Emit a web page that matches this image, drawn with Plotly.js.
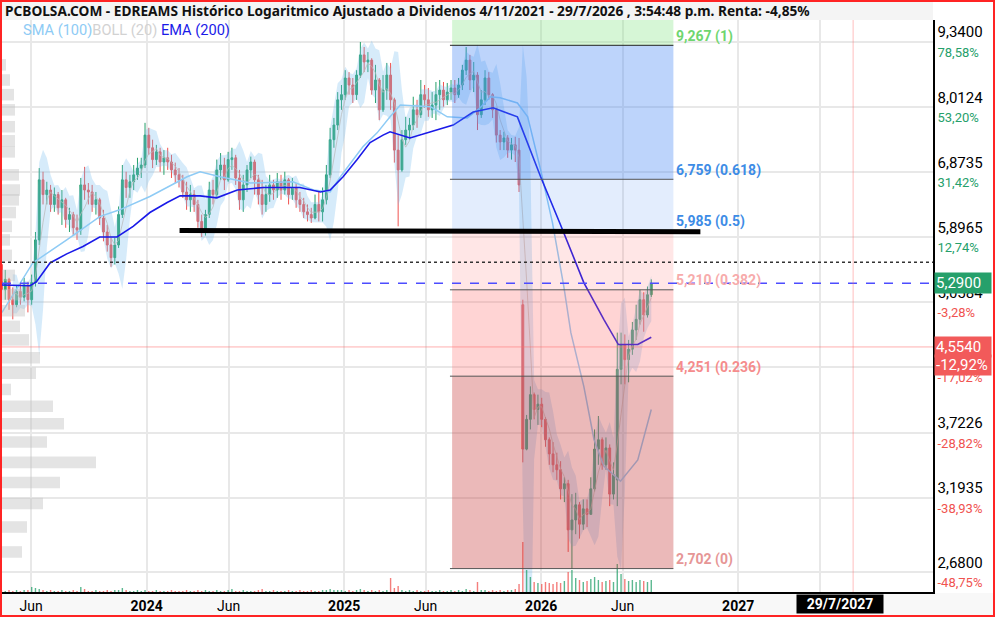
<!DOCTYPE html>
<html><head><meta charset="utf-8">
<script src="https://cdn.plot.ly/plotly-3.0.1.min.js"></script>
<style>
html,body{margin:0;padding:0;background:#fff}
#wrap{position:relative;width:995px;height:617px;overflow:hidden}
#chart{position:absolute;left:0;top:0;width:995px;height:617px}
.band{position:absolute}
#frame{position:absolute;left:0;top:0;width:995px;height:617px;box-sizing:border-box;border:2px solid #ff2424;pointer-events:none}
</style>
</head><body>
<div id="wrap">
<div class="band" style="left:0;top:0;width:933px;height:20px;background:#f4f4f4"></div>
<div class="band" style="left:0;top:593px;width:995px;height:24px;background:#f8f8f8"></div>
<div id="chart"></div>
<div id="frame"></div>
</div>
<script>
// ---------- weekly OHLC (EDREAMS), first week 2023-04-07 ----------
const O = [5.53,5.21,5.34,5.09,5.03,5.19,5.12,5.27,5.09,5.30,
5.86,6.75,6.52,6.59,6.37,6.52,6.32,6.44,6.15,6.22,
6.03,6.00,6.67,6.59,6.56,6.37,6.44,6.17,5.97,5.79,
5.62,5.79,6.22,6.75,6.63,6.72,6.83,6.94,6.99,7.50,
7.28,7.08,7.21,7.04,7.11,7.04,6.91,6.83,6.75,6.56,
6.44,6.52,6.37,6.12,6.00,6.22,6.59,6.52,6.91,6.99,
6.75,7.08,7.11,6.78,6.44,6.67,6.91,7.04,6.75,6.52,
6.37,6.52,6.67,6.59,6.72,6.59,6.75,6.52,6.63,6.44,
6.37,6.26,6.22,6.17,6.37,6.26,6.44,6.83,7.42,7.68,
8.15,8.25,8.58,8.44,8.25,8.64,9.06,8.91,8.95,8.34,
8.54,7.96,8.34,8.64,8.15,7.24,6.91,7.42,7.59,7.68,
7.96,7.87,8.25,8.15,7.96,8.05,8.25,8.34,8.15,8.30,
8.38,8.25,8.44,8.74,8.95,8.54,8.64,7.87,8.15,8.58,
8.25,7.96,7.50,7.38,7.45,7.24,7.33,7.24,5.03,3.58,
3.84,4.07,3.93,3.98,3.84,3.66,3.54,3.45,3.41,3.26,
3.30,2.96,3.03,3.14,3.00,3.11,3.07,3.26,3.58,3.66,
3.45,3.59,3.22,3.33,4.32,4.58,4.42,4.53,4.74,4.86,
5.09,4.91,5.15];
const H = [5.62,5.46,5.36,5.24,5.27,5.30,5.36,5.31,5.40,5.97,
6.94,6.88,6.72,6.67,6.63,6.56,6.59,6.47,6.32,6.26,
6.22,6.78,6.96,6.70,6.67,6.56,6.47,6.29,6.07,5.89,
5.89,6.34,6.99,6.88,6.83,6.99,7.11,7.11,7.72,7.63,
7.42,7.33,7.28,7.24,7.28,7.16,7.03,6.94,6.83,6.72,
6.67,6.59,6.44,6.22,6.29,6.72,6.75,7.08,7.19,7.11,
7.21,7.28,7.16,6.91,6.83,6.99,7.13,7.08,6.83,6.75,
6.67,6.83,6.75,6.86,6.83,6.88,6.78,6.78,6.70,6.56,
6.47,6.37,6.32,6.52,6.56,6.63,6.99,7.63,7.81,8.30,
8.44,8.74,8.70,8.58,8.74,9.34,9.23,9.12,8.99,8.85,
8.58,8.64,8.89,8.89,8.19,7.50,7.59,7.83,7.81,8.21,
8.15,8.54,8.44,8.38,8.30,8.50,8.54,8.50,8.48,8.54,
8.54,8.58,8.85,9.23,9.06,8.91,8.70,8.34,8.74,8.70,
8.28,8.00,7.59,7.56,7.50,7.45,7.47,7.45,5.09,3.88,
4.15,4.09,4.07,4.04,3.86,3.68,3.64,3.55,3.48,3.35,
3.33,3.22,3.23,3.16,3.18,3.18,3.35,3.75,3.87,3.68,
3.68,3.62,3.47,4.71,4.71,4.69,4.63,4.83,5.03,5.21,
5.18,5.25,5.34];
const L = [5.09,5.09,4.97,4.86,5.00,5.03,5.07,4.94,5.03,5.25,
5.79,6.37,6.37,6.26,6.26,6.22,6.07,6.03,5.97,5.93,
5.86,5.93,6.44,6.37,6.26,6.22,6.07,5.84,5.70,5.50,
5.53,5.75,6.17,6.47,6.47,6.59,6.75,6.78,6.94,7.16,
6.94,6.99,6.88,6.83,6.91,6.78,6.70,6.63,6.47,6.29,
6.26,6.26,6.03,5.90,5.92,6.17,6.37,6.47,6.75,6.59,
6.72,6.91,6.67,6.29,6.26,6.56,6.78,6.52,6.37,6.22,
6.26,6.41,6.44,6.47,6.44,6.52,6.37,6.44,6.32,6.26,
6.17,6.12,6.10,6.15,6.12,6.12,6.37,6.78,7.28,7.59,
7.96,8.15,8.25,8.09,8.15,8.58,8.70,8.70,8.25,8.09,
7.77,7.92,8.15,7.96,7.03,6.05,6.88,7.33,7.42,7.59,
7.63,7.81,8.00,7.83,7.81,7.77,7.96,8.02,8.05,8.15,
8.09,8.19,8.34,8.64,8.34,8.30,7.59,7.81,8.05,8.15,
7.81,7.37,7.24,7.24,7.11,7.08,7.04,6.56,3.47,3.57,
3.75,3.84,3.79,3.77,3.60,3.45,3.39,3.33,3.18,3.16,
2.81,2.70,2.93,2.90,2.96,2.98,3.07,3.24,3.45,3.41,
3.41,3.13,3.18,3.13,4.17,4.17,4.19,4.47,4.63,4.80,
4.72,4.88,5.12];
const C = [5.21,5.34,5.09,5.03,5.19,5.12,5.27,5.09,5.30,5.86,
6.75,6.52,6.59,6.37,6.52,6.32,6.44,6.15,6.22,6.03,
6.00,6.67,6.59,6.56,6.37,6.44,6.17,5.97,5.79,5.62,
5.79,6.22,6.75,6.63,6.72,6.83,6.94,6.99,7.50,7.28,
7.08,7.21,7.04,7.11,7.04,6.91,6.83,6.75,6.56,6.44,
6.52,6.37,6.12,6.00,6.22,6.59,6.52,6.91,6.99,6.75,
7.08,7.11,6.78,6.44,6.67,6.91,7.04,6.75,6.52,6.37,
6.52,6.67,6.59,6.72,6.59,6.75,6.52,6.63,6.44,6.37,
6.26,6.22,6.17,6.37,6.26,6.44,6.83,7.42,7.68,8.15,
8.25,8.58,8.44,8.25,8.64,9.06,8.91,8.95,8.34,8.54,
7.96,8.34,8.64,8.15,7.24,6.91,7.42,7.59,7.68,7.96,
7.87,8.25,8.15,7.96,8.05,8.25,8.34,8.15,8.30,8.38,
8.25,8.44,8.74,8.95,8.54,8.64,7.87,8.15,8.58,8.25,
7.96,7.50,7.38,7.45,7.24,7.33,7.24,6.67,3.58,3.84,
4.07,3.93,3.98,3.84,3.66,3.54,3.45,3.41,3.26,3.30,
2.96,3.03,3.14,3.00,3.11,3.07,3.26,3.58,3.66,3.45,
3.59,3.22,3.37,4.32,4.58,4.42,4.53,4.74,4.86,5.09,
4.91,5.15,5.29];
const VOL = [2,1,2,1,2,1,2,2,5,4, 3,2,1,2,1,1,2,1,1,2, 1,5,3,1,1,2,1,1,2,1,
2,2,4,2,1,1,2,1,2,1, 1,2,1,1,1,2,1,1,1,2, 1,1,2,1,2,1,1,2,1,1,
2,3,1,1,2,1,1,1,2,3, 1,1,2,1,1,1,2,1,1,2, 1,1,2,1,1,2,2,3,2,2,
2,1,2,1,2,3,2,1,2,1, 2,1,2,14,4,6,2,1,2,1, 2,1,1,2,1,1,2,1,1,2,
1,2,1,3,2,1,10,2,2,1, 2,1,2,1,2,2,3,8,50,22, 15,10,9,8,10,9,8,10,9,11,
20,22,14,12,10,11,13,15,12,10, 11,12,10,28,18,13,11,12,10,12, 11,10,12];

// ---------- moving averages ----------
const smaDates = ['2023-04-08','2023-06-04','2023-08-06','2023-10-06','2023-11-12','2024-01-07','2024-03-16','2024-04-09','2024-05-16','2024-07-11','2024-09-28','2024-11-05','2024-12-06','2024-12-25','2025-02-05','2025-03-03','2025-03-27','2025-04-15','2025-06-10','2025-07-11','2025-08-17','2025-09-10','2025-09-29','2025-10-17','2025-11-18','2025-12-07','2025-12-31','2026-01-22','2026-02-12','2026-02-25','2026-03-21','2026-04-09','2026-04-27','2026-05-28','2026-06-29','2026-07-24'];
const smaVals = [4.94,5.55,5.86,6.19,6.29,6.49,6.80,6.88,6.80,6.70,6.72,6.59,6.56,6.80,7.30,7.54,7.83,8.05,8.02,7.83,7.81,8.00,8.21,8.19,8.09,7.83,6.91,6.10,5.25,4.71,4.15,3.66,3.44,3.32,3.49,3.93];
const emaDates = ['2023-04-07','2023-05-30','2023-06-11','2023-07-06','2023-08-06','2023-09-05','2023-10-06','2023-11-07','2023-12-07','2024-01-07','2024-02-08','2024-03-03','2024-04-09','2024-04-22','2024-05-10','2024-06-17','2024-08-04','2024-10-11','2024-11-18','2024-12-06','2024-12-30','2025-01-25','2025-02-18','2025-03-14','2025-03-27','2025-05-03','2025-06-10','2025-07-22','2025-08-28','2025-10-04','2025-11-18','2025-12-31','2026-02-06','2026-03-21','2026-04-27','2026-05-24','2026-06-29','2026-07-24'];
const emaVals = [5.27,5.26,5.31,5.55,5.67,5.77,5.90,5.90,6.05,6.25,6.40,6.50,6.50,6.49,6.47,6.59,6.63,6.63,6.56,6.59,6.80,7.08,7.37,7.50,7.56,7.45,7.56,7.68,7.92,8.00,7.83,6.80,6.07,5.30,4.86,4.58,4.58,4.66];

// ---------- volume profile (left) ----------
const vpPrice = [8.85,8.54,8.25,7.96,7.65,7.40,7.21,6.83,6.59,6.44,6.25,6.05,5.86,5.65,5.39,5.15,4.96,4.78,4.63,4.44,4.28,4.12,3.96,3.80,3.64,3.47,3.31,3.15,2.98,2.81];
const vpVol   = [4,8,12,13,13,13,13,17,18,17,14,10,8,10,13,20,23,18,27,38,34,9,51,62,45,94,58,41,25,20];

// ---------- Fibonacci retracement ----------
const fibLevels = [2.702,4.251,5.210,5.985,6.759,9.267];
const fibRatios = ['0','0.236','0.382','0.5','0.618','1'];
const fibStart = '2025-07-20', fibEnd = '2026-09-03';

// ---------- reference lines ----------
const trendDates = ['2024-03-02','2026-10-23'];
const trendVals = [5.99,5.975];
const dottedLevel = 5.56;
const lastPrice = 5.29;
const crossPrice = 4.554, crossDate = '2027-08-02';

// ---------- axis ticks ----------
const yTickVals = [2.68,3.1935,3.7226,4.3394,5.0584,5.8965,6.8735,8.0124,9.34];
const yTickPrice = ['2,6800','3,1935','3,7226','4,3394','5,0584','5,8965','6,8735','8,0124','9,3400'];
const yTickPct = ['-48,75%','-38,93%','-28,82%','-17,02%','-3,28%','12,74%','31,42%','53,20%','78,58%'];
const xTickVals = ['2023-06-01','2024-01-01','2024-06-01','2025-01-01','2025-06-01','2026-01-01','2026-06-01','2027-01-01','2027-06-01'];
const xTickText = ['Jun','<b>2024</b>','Jun','<b>2025</b>','Jun','<b>2026</b>','Jun','<b>2027</b>',''];

// ---------- build ----------
const t0 = Date.UTC(2023,3,7);
const dates = C.map((_, i) => new Date(t0 + i*7*86400000).toISOString().slice(0,10));

const bbX=[], bbUp=[], bbLo=[], bbMid=[];
for (let i=3;i<C.length;i++){
  const w=C.slice(i-3,i+1);
  const m=w.reduce((a,b)=>a+b,0)/w.length;
  const sd=Math.sqrt(w.reduce((a,b)=>a+(b-m)*(b-m),0)/w.length);
  bbX.push(dates[i]); bbMid.push(m); bbUp.push(m+2*sd); bbLo.push(Math.max(m-2*sd,0.5));
}

const GREEN='#26a06b', RED='#f05350';
const lg = v => Math.log10(v);
const yMin = 2.557, yMax = 9.836;

const traces = [
  {type:'bar', orientation:'h', x:vpVol, y:vpPrice.map(lg), xaxis:'x2', yaxis:'y3', width:0.0118,
   marker:{color:'rgba(190,190,190,0.42)', line:{width:0}}, hoverinfo:'skip'},
  {x:bbX, y:bbUp, mode:'lines', line:{width:0, color:'rgba(0,0,0,0)'}, hoverinfo:'skip'},
  {x:bbX, y:bbLo, mode:'lines', line:{width:0, color:'rgba(0,0,0,0)'}, fill:'tonexty', fillcolor:'rgba(120,188,240,0.3)', hoverinfo:'skip'},
  {x:bbX, y:bbMid, mode:'lines', line:{width:1, color:'rgba(185,185,185,0.75)'}, hoverinfo:'skip'},
  {x:smaDates, y:smaVals, mode:'lines', line:{width:1.5, color:'#8ecbf5'}, hoverinfo:'skip'},
  {x:emaDates, y:emaVals, mode:'lines', line:{width:1.6, color:'#1a1ae8'}, hoverinfo:'skip'},
  {type:'candlestick', x:dates, open:O, high:H, low:L, close:C,
   increasing:{line:{color:GREEN, width:1}, fillcolor:GREEN},
   decreasing:{line:{color:RED, width:1}, fillcolor:RED}, hoverinfo:'skip'},
  {type:'bar', x:dates, y:VOL, yaxis:'y2', width:2.6*86400000,
   marker:{color:C.map((c,i)=> c>=O[i] ? 'rgba(38,160,107,0.75)' : 'rgba(240,83,80,0.75)')}, hoverinfo:'skip'}
];

// shapes on a log axis take plain data values
const shapes = [];
const zoneColors = ['rgba(200,60,60,0.36)','rgba(255,100,100,0.28)','rgba(255,100,100,0.16)','rgba(66,133,244,0.15)','rgba(66,133,244,0.35)'];
for (let k=0;k<fibLevels.length-1;k++){
  shapes.push({type:'rect', xref:'x', yref:'y', x0:fibStart, x1:fibEnd, y0:fibLevels[k], y1:fibLevels[k+1],
    fillcolor:zoneColors[k], line:{width:0}, layer:'above'});
}
shapes.push({type:'rect', xref:'x', yref:'y', x0:fibStart, x1:fibEnd, y0:fibLevels[5], y1:yMax,
  fillcolor:'rgba(120,225,120,0.3)', line:{width:0}, layer:'above'});
fibLevels.forEach((v,k)=>{
  shapes.push({type:'line', xref:'x', yref:'y', x0:'2025-07-16', x1:fibEnd, y0:v, y1:v,
    line:{color:k===5?'#222':'#555', width:1}, layer:'above'});
});
shapes.push({type:'line', xref:'x', yref:'y', x0:trendDates[0], x1:trendDates[1], y0:trendVals[0], y1:trendVals[1],
  line:{color:'#000', width:5}, layer:'above'});
shapes.push({type:'line', xref:'paper', yref:'y', x0:0, x1:1, y0:dottedLevel, y1:dottedLevel,
  line:{color:'#333', width:1.5, dash:'dot'}, layer:'above'});
shapes.push({type:'line', xref:'paper', yref:'y', x0:0, x1:1, y0:lastPrice, y1:lastPrice,
  line:{color:'#4d4dff', width:1.5, dash:'dash'}, layer:'above'});
shapes.push({type:'line', xref:'paper', yref:'y', x0:0, x1:1, y0:crossPrice, y1:crossPrice,
  line:{color:'rgba(255,110,110,0.55)', width:1}, layer:'above'});
shapes.push({type:'line', xref:'x', yref:'paper', x0:crossDate, x1:crossDate, y0:0, y1:1,
  line:{color:'rgba(255,110,110,0.45)', width:1}, layer:'above'});

const fibColors = ['#e69696','#f58c8c','#f7abab','#3d8ce6','#3d8ce6','#6fd66f'];
const fmt = v => v.toFixed(3).replace('.',',');
// annotations on a log axis take log10 positions
const annotations = fibLevels.map((v,k)=>({xref:'x', yref:'y', x:fibEnd, y:lg(v), xanchor:'left', yanchor:'middle',
  xshift:1, yshift:9, showarrow:false, text:'<b>'+fmt(v)+' ('+fibRatios[k]+')</b>',
  font:{family:'Roboto', size:14, color:fibColors[k]}}));

annotations.push({xref:'paper', yref:'paper', x:0, y:1, xanchor:'left', yanchor:'middle', xshift:1, yshift:10, showarrow:false,
  text:'<b>PCBOLSA.COM - EDREAMS Histórico Logaritmico Ajustado a Dividenos 4/11/2021 - 29/7/2026 , 3:54:48 p.m. Renta: -4,85%</b>',
  font:{family:'Noto Sans', size:13.7, color:'#111'}});
annotations.push({xref:'paper', yref:'paper', x:0, y:1, xanchor:'left', yanchor:'middle', xshift:19, yshift:-10, showarrow:false,
  text:'<span style="color:#8ecbf5">SMA (100)</span><span style="color:#d2d2d2">BOLL (20)</span> <span style="color:#1a1ae8">EMA (200)</span>',
  font:{family:'Roboto', size:14.6}});
annotations.push({xref:'paper', yref:'y', x:1, y:lg(lastPrice), xanchor:'left', yanchor:'middle', xshift:1, showarrow:false,
  text:'5,2900', bgcolor:'#26a06b', font:{family:'Roboto', size:15, color:'#fff'}, width:54, align:'left', borderpad:1});
annotations.push({xref:'paper', yref:'y', x:1, y:lg(crossPrice), xanchor:'left', yanchor:'middle', xshift:1, showarrow:false,
  text:'4,5540', bgcolor:'#f25a5a', font:{family:'Roboto', size:15, color:'#fff'}, width:54, align:'left', borderpad:1});
annotations.push({xref:'paper', yref:'y', x:1, y:lg(crossPrice), xanchor:'left', yanchor:'middle', xshift:1, yshift:-18, showarrow:false,
  text:'-12,92%', bgcolor:'#f25a5a', font:{family:'Roboto', size:15, color:'#fff'}, width:54, align:'left', borderpad:1});
annotations.push({xref:'x', yref:'paper', x:'2027-07-08', y:0, xanchor:'center', yanchor:'middle', yshift:-12, showarrow:false,
  text:'<b>29/7/2027</b>', bgcolor:'#000', font:{family:'Roboto', size:14, color:'#fff'}, width:84, borderpad:1});

const yTickText = yTickVals.map((v,k)=> yTickPrice[k]+'<br><span style="font-size:13px;color:'+(yTickPct[k][0]==='-'?'#f05350':'#26a06b')+'">'+yTickPct[k]+'</span>');

const layout = {
  width:995, height:617, margin:{l:2, r:62, t:20, b:25, pad:0},
  paper_bgcolor:'rgba(0,0,0,0)', plot_bgcolor:'#fff', showlegend:false, hovermode:false,
  font:{family:'Roboto', color:'#000'},
  xaxis:{type:'date', range:['2023-04-08','2027-12-28'], tickvals:xTickVals, ticktext:xTickText, tickmode:'array',
    showgrid:true, gridcolor:'#e8e8e8', gridwidth:2, showline:true, linecolor:'#000', linewidth:2, ticks:'',
    tickfont:{family:'Roboto', size:14, color:'#000'}, rangeslider:{visible:false}, zeroline:false, fixedrange:true},
  yaxis:{type:'log', side:'right', range:[lg(yMin), lg(yMax)], tickmode:'array', tickvals:yTickVals, ticktext:yTickText,
    showgrid:true, gridcolor:'#e8e8e8', gridwidth:2, showline:true, linecolor:'#000', linewidth:1.5, ticks:'',
    tickfont:{family:'Roboto', size:15, color:'#000'}, zeroline:false, fixedrange:true},
  yaxis2:{overlaying:'y', range:[0,572], visible:false, fixedrange:true},
  yaxis3:{overlaying:'y', range:[lg(yMin), lg(yMax)], visible:false, fixedrange:true},
  xaxis2:{overlaying:'x', range:[0,931], visible:false, fixedrange:true},
  shapes:shapes, annotations:annotations
};

Plotly.newPlot('chart', traces, layout, {displayModeBar:false, staticPlot:true});
</script>
</body></html>
